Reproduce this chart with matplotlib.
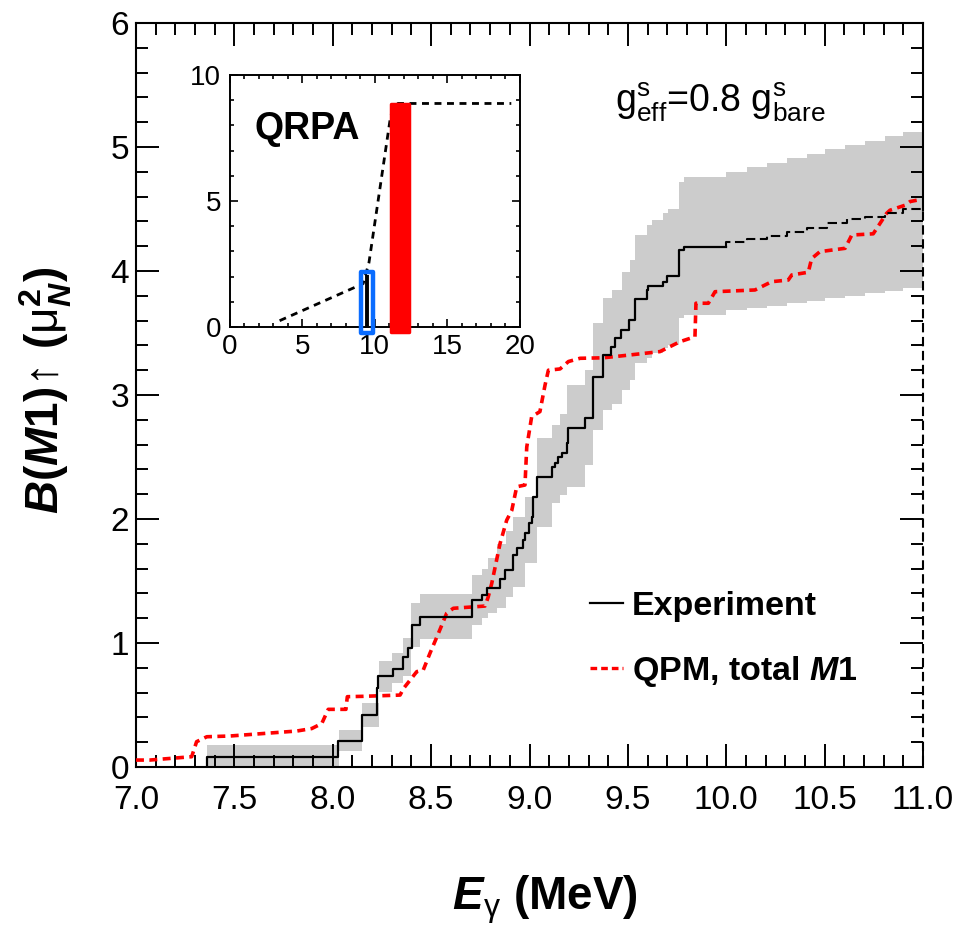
import matplotlib
matplotlib.use("Agg")
import matplotlib.pyplot as plt
from matplotlib.ticker import MultipleLocator, FormatStrFormatter
import numpy as np

plt.rcParams['font.family'] = ['Liberation Sans', 'DejaVu Sans']
plt.rcParams['mathtext.fontset'] = 'custom'
plt.rcParams['mathtext.rm'] = 'Liberation Sans'
plt.rcParams['mathtext.it'] = 'Liberation Sans:italic'
plt.rcParams['mathtext.bf'] = 'Liberation Sans:bold'
plt.rcParams['mathtext.bfit'] = 'Liberation Sans:italic:bold'
plt.rcParams['mathtext.sf'] = 'Liberation Sans'

# ---------------- data ----------------
# Experiment, cumulative B(M1) (solid part)
exp_E = [7.362, 8.028, 8.147, 8.223, 8.228, 8.308, 8.355, 8.384, 8.401, 8.445,
         8.706, 8.757, 8.782, 8.85, 8.878, 8.918, 8.935, 8.969, 8.977, 8.999,
         9.011, 9.019, 9.037, 9.113, 9.13, 9.147, 9.164, 9.19, 9.198, 9.282,
         9.324, 9.375, 9.413, 9.435, 9.463, 9.507, 9.536, 9.595, 9.603, 9.677,
         9.70, 9.761, 9.785]
exp_B = [0.083, 0.21, 0.42, 0.64, 0.73, 0.79, 0.89, 0.957, 1.145, 1.212,
         1.35, 1.39, 1.44, 1.52, 1.589, 1.71, 1.763, 1.83, 1.885, 1.965,
         2.019, 2.18, 2.341, 2.42, 2.449, 2.502, 2.53, 2.61, 2.731, 2.812,
         3.148, 3.32, 3.39, 3.457, 3.524, 3.605, 3.774, 3.847, 3.879, 3.914,
         3.962, 4.169, 4.196]
exp_end = 10.0
# Experiment extension (dashed part)
ext_E = [10.0, 10.104, 10.206, 10.307, 10.409, 10.51, 10.612, 10.705, 10.807, 10.9]
ext_B = [4.236, 4.26, 4.285, 4.317, 4.344, 4.385, 4.417, 4.438, 4.47, 4.497]
ext_end = 11.0

# uncertainty band (step edges)
band_E = [7.36, 8.03, 8.15, 8.237, 8.30, 8.355, 8.396, 8.443, 8.706, 8.757,
          8.79, 8.833, 8.88, 8.918, 8.977, 9.037, 9.113, 9.155, 9.19, 9.282,
          9.324, 9.375, 9.418, 9.469, 9.511, 9.536, 9.596, 9.621, 9.68, 9.705,
          9.761, 9.785, 10.0, 10.104, 10.206, 10.307, 10.409, 10.502, 10.604, 10.705,
          10.807, 10.9]
band_hi = [0.177, 0.298, 0.519, 0.857, 0.917, 1.038, 1.325, 1.395, 1.548, 1.60,
           1.683, 1.80, 1.90, 2.02, 2.18, 2.65, 2.758, 2.85, 3.08, 3.20,
           3.578, 3.78, 3.847, 3.994, 4.089, 4.29, 4.371, 4.411, 4.465, 4.497,
           4.72, 4.755, 4.795, 4.836, 4.868, 4.909, 4.943, 4.981, 5.016, 5.051,
           5.089, 5.124]
band_lo = [0.0, 0.129, 0.32, 0.607, 0.675, 0.734, 0.965, 1.03, 1.145, 1.20,
           1.24, 1.28, 1.37, 1.454, 1.643, 1.938, 2.127, 2.19, 2.26, 2.435,
           2.718, 2.88, 2.927, 3.04, 3.12, 3.256, 3.296, 3.336, 3.376, 3.40,
           3.618, 3.645, 3.685, 3.70, 3.72, 3.74, 3.76, 3.78, 3.80, 3.82,
           3.84, 3.86]

# QPM total M1
qpm_E = [7.0, 7.07, 7.283, 7.308, 7.36, 7.478, 7.647, 7.817, 7.893, 7.944,
         7.977, 8.067, 8.074, 8.155, 8.342, 8.36, 8.427, 8.46, 8.494, 8.537,
         8.579, 8.613, 8.774, 8.79, 8.808, 8.85, 8.884, 8.91, 8.935, 8.977,
         8.986, 9.011, 9.053, 9.079, 9.096, 9.155, 9.198, 9.257, 9.375, 9.494,
         9.663, 9.765, 9.841, 9.846, 9.909, 9.943, 10.146, 10.231, 10.315, 10.333,
         10.417, 10.434, 10.476, 10.604, 10.638, 10.747, 10.815, 10.832, 10.908, 10.934,
         10.976]
qpm_B = [0.056, 0.056, 0.083, 0.204, 0.244, 0.25, 0.27, 0.29, 0.31, 0.35,
         0.465, 0.465, 0.567, 0.57, 0.58, 0.634, 0.769, 0.782, 0.917, 1.078,
         1.24, 1.28, 1.298, 1.37, 1.48, 1.80, 1.99, 2.07, 2.26, 2.274,
         2.58, 2.825, 2.866, 3.08, 3.20, 3.21, 3.27, 3.296, 3.30, 3.32,
         3.35, 3.43, 3.47, 3.74, 3.74, 3.833, 3.847, 3.914, 3.927, 3.968,
         3.99, 4.10, 4.156, 4.183, 4.29, 4.30, 4.465, 4.49, 4.53, 4.56,
         4.573]

# inset: QRPA
qrpa_E = [3.45, 9.2, 9.6, 11.1, 11.6, 19.4]
qrpa_B = [0.25, 1.72, 2.55, 8.4, 8.87, 8.87]
exp_bar_E = 9.47
exp_bar_B = 2.05
exp_box = (9.05, 9.86, -0.25, 2.17)   # x0, x1, y0, y1
qrpa_bar_E = 11.74
qrpa_bar_W = 1.3
qrpa_bar_B = (-0.2, 8.85)

xticks_main = [7.0, 7.5, 8.0, 8.5, 9.0, 9.5, 10.0, 10.5, 11.0]
yticks_main = [0, 1, 2, 3, 4, 5, 6]

# ---------------- figure ----------------
W, H = 959, 934
fig = plt.figure(figsize=(W / 100, H / 100), dpi=100)
ax = fig.add_axes([136 / W, 1 - 767 / H, (923 - 136) / W, (767 - 23) / H])

ax.fill_between(band_E + [11.0], band_lo + [band_lo[-1]], band_hi + [band_hi[-1]],
                step='post', color='#cccccc', lw=0, zorder=1)

ax.plot(qpm_E, qpm_B, color='#ff0000', lw=2.6, ls=(0, (2.2, 1.5)), zorder=3)

sx = [exp_E[0]] + exp_E + [exp_end]
sy = [0.0] + exp_B + [exp_B[-1]]
ax.plot(sx, sy, drawstyle='steps-post', color='black', lw=1.6, zorder=4)

dx = [ext_E[0]] + ext_E + [ext_end, ext_end]
dy = [exp_B[-1]] + ext_B + [ext_B[-1], 0.0]
ax.plot(dx, dy, drawstyle='steps-post', color='black', lw=1.5,
        ls=(0, (4.5, 2.2)), zorder=6, clip_on=False)

ax.set_xlim(7.0, 11.0)
ax.set_ylim(0, 6)
ax.set_xticks(xticks_main)
ax.set_yticks(yticks_main)
ax.xaxis.set_major_formatter(FormatStrFormatter('%.1f'))
ax.xaxis.set_minor_locator(MultipleLocator(0.1))
ax.yaxis.set_minor_locator(MultipleLocator(0.2))
ax.tick_params(which='both', direction='in', top=True, right=True, width=1.4)
ax.tick_params(which='major', length=16.5, labelsize=24)
ax.tick_params(which='minor', length=8.5)
ax.tick_params(axis='x', which='major', pad=13)
ax.tick_params(axis='y', which='major', pad=5)
for s in ax.spines.values():
    s.set_linewidth(1.5)
ax.spines['right'].set_bounds(4.49, 6)

fig.text(545 / W, 1 - 900 / H, r'$\mathbfit{E}_{\mathrm{γ}}$ (MeV)', fontsize=33,
         fontweight='bold', ha='center', va='center')
fig.text(46 / W, 1 - 390 / H,
         r'$\mathbfit{B}\mathbf{(}\mathbfit{M}\mathbf{1)}\!\uparrow\,\mathbf{(}\mathrm{μ}^{\mathbf{2}}_{\mathbfit{N}}\mathbf{)}$',
         fontsize=33, rotation=90, ha='center', va='center')

ax.text((615 - 136) / 787, (767 - 112) / 744,
        r'g$^{\rm s}_{\rm eff}$=0.8 g$^{\rm s}_{\rm bare}$', fontsize=27,
        transform=ax.transAxes, ha='left', va='baseline')

# legend (manual)
lx0, lx1 = (590 - 136) / 787, (623 - 136) / 787
ax.plot([lx0, lx1], [(767 - 603) / 744] * 2, color='black', lw=1.6,
        transform=ax.transAxes)
ax.text((632 - 136) / 787, (767 - 615) / 744, 'Experiment', fontsize=24.5,
        fontweight='bold', transform=ax.transAxes, va='baseline')
ax.plot([lx0, lx1], [(767 - 668) / 744] * 2, color='#ff0000', lw=2.4,
        ls=(0, (2.0, 1.2)), transform=ax.transAxes)
ax.text((632 - 136) / 787, (767 - 680) / 744, r'QPM, total $\mathbfit{M}\mathbf{1}$',
        fontsize=24.5, fontweight='bold', transform=ax.transAxes, va='baseline')

# ---------------- inset ----------------
ai = fig.add_axes([229.5 / W, 1 - 327 / H, (520 - 229.5) / W, (327 - 75) / H])
ai.set_xlim(0, 20)
ai.set_ylim(0, 10)
ai.plot(qrpa_E, qrpa_B, color='black', lw=2.0, ls=(0, (2.5, 2.0)), zorder=2)
x0, x1, y0, y1 = exp_box
ai.add_patch(plt.Rectangle((x0, y0), x1 - x0, y1 - y0, fill=False,
                           edgecolor='#0a6cff', lw=3.2, joinstyle='round',
                           clip_on=False, zorder=4))
ai.plot([exp_bar_E, exp_bar_E], [-0.05, exp_bar_B], color='black', lw=2.8,
        solid_capstyle='butt', zorder=5, clip_on=False)
ai.bar(qrpa_bar_E, qrpa_bar_B[1] - qrpa_bar_B[0], bottom=qrpa_bar_B[0],
       width=qrpa_bar_W, color='#ff0000', edgecolor='#ff0000', lw=2.5,
       joinstyle='round', zorder=5, clip_on=False)
ai.text(0.085, 0.745, 'QRPA', fontsize=27, fontweight='bold',
        transform=ai.transAxes, va='baseline')
ai.set_xticks([0, 5, 10, 15, 20])
ai.set_yticks([0, 5, 10])
ai.xaxis.set_minor_locator(MultipleLocator(1))
ai.yaxis.set_minor_locator(MultipleLocator(1))
ai.tick_params(which='both', direction='in', top=True, right=True, width=1.2)
ai.tick_params(which='major', length=5.5, labelsize=20)
ai.tick_params(which='minor', length=3)
ai.tick_params(axis='x', which='major', pad=5)
ai.tick_params(axis='y', which='major', pad=6)
for s in ai.spines.values():
    s.set_linewidth(1.4)

fig.savefig('out.png', dpi=100)
